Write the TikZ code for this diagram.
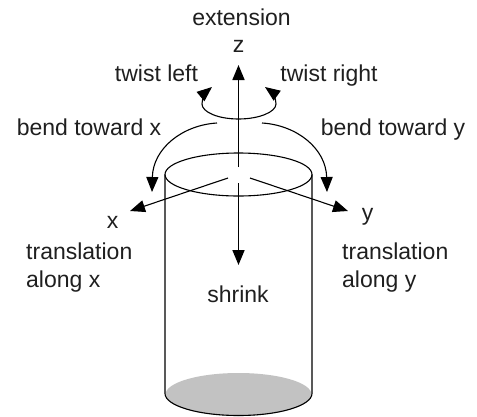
\documentclass[tikz,border=0pt]{standalone}
\usepackage{fontspec}
\setmainfont{Liberation Sans}
\usetikzlibrary{arrows.meta}
\tikzset{
  lbl/.style={inner sep=0pt,anchor=base,font=\fontsize{23}{28}\selectfont,text=black!88},
  lblw/.style={inner sep=0pt,anchor=base west,font=\fontsize{23}{28}\selectfont,text=black!88},
  cyl/.style={line width=1.1pt,black},
  axis/.style={line width=1.7pt,black,-{Triangle[length=15pt,width=12pt]}},
  thinaxis/.style={line width=1.1pt,black,-{Triangle[length=15pt,width=12pt]}},
  curved/.style={line width=1.1pt,black,-{Triangle[length=15pt,width=12pt]}}
}
\begin{document}
\begin{tikzpicture}[x=1pt,y=-1pt]
\useasboundingbox (0,0) rectangle (477,416);
% cylinder
\fill[black!24] (238.5,394.5) ellipse [x radius=73,y radius=21.5];
\draw[cyl] (165,174.5) -- (165,393.5) arc [start angle=180,end angle=360,x radius=73.5,y radius=-22] -- (312,174.5);
\draw[cyl] (238.5,174.5) ellipse [x radius=73.5,y radius=21.5];
% axes
\coordinate (ztop) at (238.5,65);
\coordinate (zbase) at (238.5,167);
\coordinate (zlow) at (238.5,183);
\coordinate (zdown) at (238.5,265);
\coordinate (xstart) at (228,178);
\coordinate (xtip) at (130,211);
\coordinate (ystart) at (250,178);
\coordinate (ytip) at (348,211);
\draw[axis] (zbase) -- (ztop);
\draw[axis] (zlow) -- (zdown);
\draw[thinaxis] (xstart) -- (xtip);
\draw[thinaxis] (ystart) -- (ytip);
% twist
\coordinate (twl) at (212,87);
\coordinate (twr) at (265,87);
\draw[curved] (238.5,119) .. controls (218,119) and (202,112) .. (202,104) .. controls (202,98) and (206,92) .. (twl);
\draw[curved] (238.5,119) .. controls (259,119) and (276,112) .. (276,104) .. controls (276,98) and (272,92) .. (twr);
% bends
\coordinate (bls) at (217,123);
\coordinate (ble) at (152,192);
\coordinate (brs) at (262,123);
\coordinate (bre) at (327,192);
\draw[curved] (bls) .. controls (183,125) and (153,148) .. (ble);
\draw[curved] (brs) .. controls (296,125) and (326,148) .. (bre);
% labels
\node[lbl] (lext) at (241.5,25) {extension};
\node[lbl] (lz) at (238.5,52) {z};
\node[lbl] (ltl) at (156.5,81) {twist left};
\node[lbl] (ltr) at (329,81) {twist right};
\node[lbl] (lbx) at (89,135) {bend toward x};
\node[lbl] (lby) at (393,135) {bend toward y};
\node[lbl] (lx) at (112.5,228) {x};
\node[lbl] (ly) at (367.5,220) {y};
\node[lblw] (ltx1) at (26,259) {translation};
\node[lblw] (ltx2) at (26,287) {along x};
\node[lblw] (lty1) at (342,259) {translation};
\node[lblw] (lty2) at (342,287) {along y};
\node[lbl] (ls) at (238,302) {shrink};
\end{tikzpicture}
\end{document}
